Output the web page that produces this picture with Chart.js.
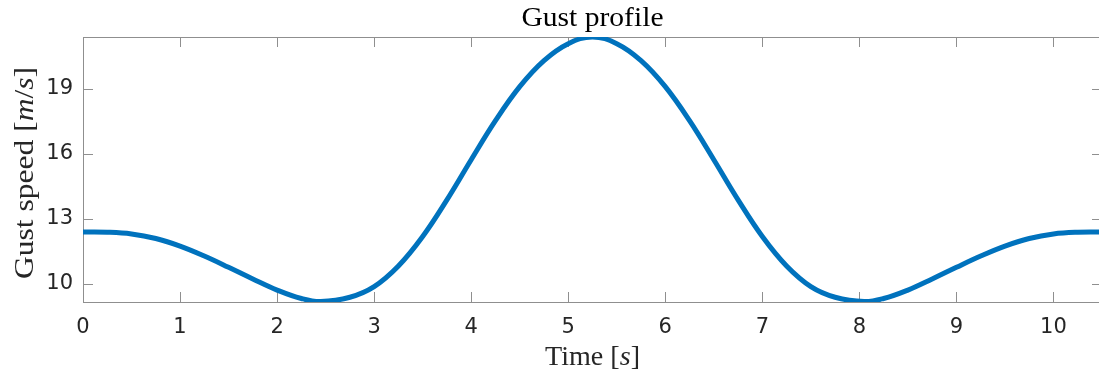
<!DOCTYPE html>
<html>
<head>
<meta charset="utf-8">
<script src="https://cdn.jsdelivr.net/npm/chart.js@4/dist/chart.umd.min.js"></script>
<style>
  html, body { margin: 0; padding: 0; background: #fff; overflow: hidden; }
  #wrap { width: 1104px; height: 376px; }
</style>
</head>
<body>
<div id="wrap"><canvas id="gustChart" width="1104" height="376"></canvas></div>
<script>
// values
const timeS = [0, 0.25, 0.5, 0.75, 1, 1.25, 1.5, 1.75, 2, 2.25, 2.45, 2.75, 3, 3.25, 3.5, 3.75,
    4, 4.25, 4.5, 4.75, 5, 5.25, 5.5, 5.75, 6, 6.25, 6.5, 6.75, 7, 7.25, 7.5, 7.75, 8.05,
    8.25, 8.5, 8.75, 9, 9.25, 9.5, 9.75, 10, 10.25, 10.5];
const gustSpeed = [12.40, 12.39, 12.31, 12.10, 11.75, 11.29, 10.77, 10.23, 9.72, 9.33, 9.19, 9.39, 9.88, 10.83, 12.19, 13.88,
    15.73, 17.53, 19.10, 20.30, 21.08, 21.39, 21.08, 20.30, 19.10, 17.53, 15.73, 13.88, 12.19, 10.83, 9.88, 9.39, 9.19,
    9.33, 9.72, 10.23, 10.77, 11.29, 11.75, 12.10, 12.31, 12.39, 12.40];
const xTicks = [0, 1, 2, 3, 4, 5, 6, 7, 8, 9, 10];
const yTicks = [10, 13, 16, 19];

const serif = '"Liberation Serif", "DejaVu Serif", serif';
const axisGray = '#8f8f8f';
const textDark = '#262626';

// draws text parts (some italic) centred on the current origin, stretched to a given width
const drawMixed = (ctx, parts, size, width) => {
    let total = 0;
    parts.forEach(p => {
        ctx.font = (p[1] ? 'italic ' : '') + size + 'px ' + serif;
        total += ctx.measureText(p[0]).width;
    });
    ctx.scale(width / total, 1);
    let x = -total / 2;
    parts.forEach(p => {
        ctx.font = (p[1] ? 'italic ' : '') + size + 'px ' + serif;
        ctx.fillText(p[0], x, 0);
        x += ctx.measureText(p[0]).width;
    });
};

const matlabAxes = {
    id: 'matlabAxes',
    beforeDatasetsDraw(chart) {
        const { ctx, chartArea: a, scales } = chart;
        ctx.save();
        ctx.strokeStyle = axisGray;
        ctx.lineWidth = 1;
        ctx.strokeRect(a.left + 0.5, a.top + 0.5, a.right - a.left, a.bottom - a.top);
        ctx.beginPath();
        xTicks.forEach(v => {
            const px = Math.round(scales.x.getPixelForValue(v)) + 0.5;
            ctx.moveTo(px, a.bottom); ctx.lineTo(px, a.bottom - 10);
            ctx.moveTo(px, a.top); ctx.lineTo(px, a.top + 10);
        });
        yTicks.forEach(v => {
            const py = Math.round(scales.y.getPixelForValue(v)) + 0.5;
            ctx.moveTo(a.left, py); ctx.lineTo(a.left + 10, py);
            ctx.moveTo(a.right, py); ctx.lineTo(a.right - 10, py);
        });
        ctx.stroke();
        ctx.restore();
    },
    afterDraw(chart) {
        const { ctx, chartArea: a } = chart;
        const cx = (a.left + a.right) / 2;
        ctx.save();
        ctx.textBaseline = 'alphabetic';
        ctx.textAlign = 'left';
        // title
        ctx.fillStyle = '#000';
        ctx.save();
        ctx.translate(cx, 26);
        drawMixed(ctx, [['Gust profile', false]], 27, 142);
        ctx.restore();
        // x label
        ctx.fillStyle = textDark;
        ctx.save();
        ctx.translate(cx, 365);
        drawMixed(ctx, [['Time [', false], ['s', true], [']', false]], 27, 95);
        ctx.restore();
        // y label
        ctx.save();
        ctx.translate(33, 173);
        ctx.rotate(-Math.PI / 2);
        drawMixed(ctx, [['Gust speed [', false], ['m', true], ['/', false], ['s', true], [']', false]], 27, 212);
        ctx.restore();
        ctx.restore();
    }
};

const ctx = document.getElementById('gustChart').getContext('2d');
new Chart(ctx, {
    type: 'line',
    data: {
        datasets: [{
            label: 'Gust speed',
            data: timeS.map((t, i) => ({ x: t, y: gustSpeed[i] })),
            borderColor: '#0072BD',
            borderWidth: 5,
            pointRadius: 0,
            fill: false,
            tension: 0.4
        }]
    },
    options: {
        responsive: false,
        animation: false,
        layout: { padding: { top: 37, right: 2, left: 0, bottom: 0 } },
        plugins: {
            legend: { display: false },
            tooltip: { enabled: false },
            title: { display: false }
        },
        scales: {
            x: {
                type: 'linear',
                min: 0,
                max: 10.5,
                afterBuildTicks: s => { s.ticks = xTicks.map(v => ({ value: v })); },
                afterFit: s => { s.height = 74; },
                grid: { display: false, drawTicks: false },
                border: { display: false },
                ticks: {
                    color: textDark,
                    padding: 13,
                    maxRotation: 0,
                    font: { family: '"DejaVu Sans", sans-serif', size: 21 }
                }
            },
            y: {
                min: 9.17,
                max: 21.39,
                afterBuildTicks: s => { s.ticks = yTicks.map(v => ({ value: v })); },
                afterFit: s => { s.width = 83; },
                grid: { display: false, drawTicks: false },
                border: { display: false },
                ticks: {
                    color: textDark,
                    padding: 10,
                    font: { family: '"DejaVu Sans", sans-serif', size: 21 }
                }
            }
        }
    },
    plugins: [matlabAxes]
});
</script>
</body>
</html>
